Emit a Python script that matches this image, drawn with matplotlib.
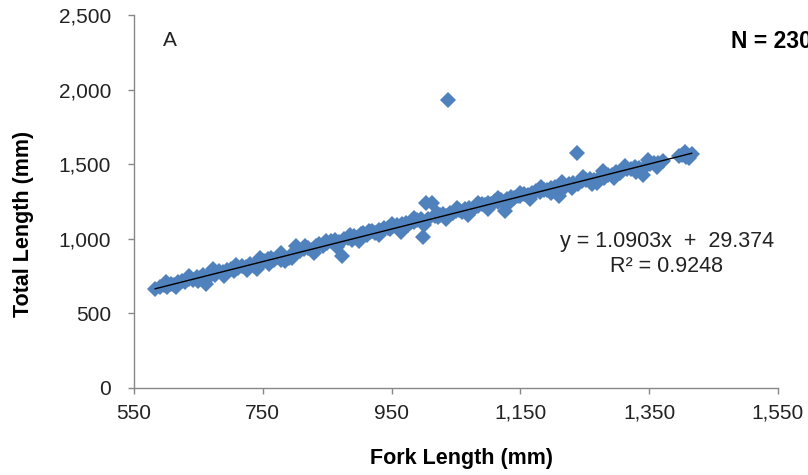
import matplotlib
matplotlib.use("Agg")
import matplotlib.pyplot as plt
from matplotlib.ticker import FuncFormatter

plt.rcParams['font.family'] = ['Liberation Sans', 'DejaVu Sans']

fork_length = [
    583, 590, 596, 602, 608, 612, 618, 625, 630, 636, 642, 648, 652, 657, 662, 665,
    670, 676, 682, 688, 694, 700, 705, 712, 718, 724, 730, 736, 741, 746, 752, 758,
    763, 768, 774, 779, 784, 790, 796, 802, 808, 814, 820, 826, 832, 838, 844, 850,
    856, 862, 868, 873, 876, 882, 888, 892, 898, 902, 906, 912, 916, 920, 925, 930,
    934, 938, 944, 948, 952, 958, 962, 966, 972, 976, 980, 985, 990, 995, 999, 1003,
    1006, 1013, 1017, 1022, 1026, 1030, 1034, 1038, 1040, 1045, 1050, 1055, 1060, 1064,
    1070, 1075, 1080, 1085, 1090, 1095, 1100, 1105, 1110, 1115, 1120, 1126, 1130, 1135,
    1140, 1146, 1150, 1156, 1162, 1168, 1174, 1180, 1186, 1192, 1198, 1204, 1210, 1214,
    1220, 1226, 1232, 1238, 1240, 1246, 1252, 1258, 1264, 1269, 1274, 1280, 1286, 1292,
    1298, 1304, 1310, 1316, 1322, 1328, 1334, 1340, 1346, 1352, 1358, 1364, 1372, 1396,
    1401, 1408, 1416,
    600, 615, 635, 650, 672, 690, 708, 725, 745, 760, 778, 795, 815, 830, 848, 865,
    885, 900, 915, 930, 950, 965, 985, 1000, 1020, 1035, 1052, 1068, 1085, 1100, 1115,
    1132, 1150, 1165, 1182, 1198, 1215, 1230, 1248, 1262, 1278, 1295, 1312, 1330, 1348,
    1362, 1405, 1412,
]
total_length = [
    662, 675, 690, 680, 700, 688, 710, 720, 708, 730, 725, 745, 735, 760, 695, 740,
    770, 760, 782, 775, 790, 800, 785, 805, 820, 810, 830, 815, 797, 845, 850, 862,
    870, 855, 880, 860, 850, 870, 895, 950, 915, 930, 940, 925, 950, 965, 955, 972,
    985, 990, 978, 885, 1000, 1005, 995, 1020, 1010, 1030, 1040, 1025, 1045, 1050, 1038, 1060,
    1055, 1070, 1075, 1065, 1085, 1090, 1080, 1100, 1105, 1095, 1115, 1110, 1125, 1130, 1012, 1240,
    1135, 1240, 1150, 1145, 1160, 1168, 1155, 1930, 1175, 1170, 1185, 1190, 1180, 1200,
    1205, 1195, 1215, 1220, 1230, 1225, 1240, 1235, 1250, 1245, 1260, 1185, 1265, 1280,
    1275, 1290, 1285, 1300, 1295, 1310, 1320, 1315, 1330, 1325, 1340, 1345, 1285, 1355,
    1350, 1368, 1375, 1575, 1370, 1385, 1392, 1400, 1395, 1374, 1415, 1410, 1430, 1425,
    1445, 1440, 1460, 1465, 1470, 1480, 1475, 1428, 1495, 1500, 1510, 1505, 1520, 1555,
    1561, 1550, 1570,
    710, 680, 750, 715, 795, 750, 825, 790, 870, 830, 905, 870, 955, 905, 985, 945,
    1025, 985, 1055, 1025, 1100, 1045, 1140, 1095, 1175, 1130, 1205, 1160, 1240, 1200, 1275,
    1240, 1310, 1265, 1350, 1305, 1380, 1340, 1415, 1370, 1455, 1410, 1485, 1450, 1525,
    1480, 1580, 1540,
]
x_ticks = [550, 750, 950, 1150, 1350, 1550]
y_ticks = [0, 500, 1000, 1500, 2000, 2500]
slope = 1.0903
intercept = 29.374
r_squared = 0.9248
n_label = "N = 230"
panel_label = "A"

fig = plt.figure(figsize=(8.08, 4.75), dpi=100)
ax = fig.add_axes([0.1658, 0.1832, 0.7970, 0.7852])

ax.plot(fork_length, total_length, linestyle='none', marker='D',
        markersize=8.6, color='#4F81BD', markeredgewidth=0, zorder=2)

x0, x1 = min(fork_length), max(fork_length)
ax.plot([x0, x1], [slope * x0 + intercept, slope * x1 + intercept],
        color='black', linewidth=1.0, zorder=3)

ax.set_xlim(x_ticks[0], x_ticks[-1])
ax.set_ylim(y_ticks[0], y_ticks[-1])
ax.set_xticks(x_ticks)
ax.set_yticks(y_ticks)
fmt = FuncFormatter(lambda v, p: f"{int(round(v)):,}")
ax.xaxis.set_major_formatter(fmt)
ax.yaxis.set_major_formatter(fmt)

for s in ['top', 'right']:
    ax.spines[s].set_visible(False)
for s in ['left', 'bottom']:
    ax.spines[s].set_color('#888888')
    ax.spines[s].set_linewidth(1.0)
ax.tick_params(axis='both', direction='out', length=4.5, width=1.0, color='#888888',
               labelsize=15, labelcolor='#222222')
ax.tick_params(axis='y', pad=12)
ax.tick_params(axis='x', pad=7)

ax.set_xlabel('Fork Length (mm)', fontsize=15.5, fontweight='bold')
ax.set_ylabel('Total Length (mm)', fontsize=15.5, fontweight='bold')
ax.xaxis.set_label_coords(0.509, -0.16)
ax.yaxis.set_label_coords(-0.155, 0.44)

fig.text(163 / 808, 1 - 40 / 475, panel_label, fontsize=15, ha='left', va='center',
         color='#222222')
fig.text(731 / 808, 1 - 42 / 475, n_label, fontsize=16.5, fontweight='bold',
         ha='left', va='center')
fig.text(667 / 808, 1 - 241 / 475, f"y = {slope}x  +  {intercept}", fontsize=15.5,
         ha='center', va='center', color='#222222')
fig.text(667 / 808, 1 - 266 / 475, f"R² = {r_squared}", fontsize=15.5,
         ha='center', va='center', color='#222222')

fig.savefig('out.png', dpi=100)
